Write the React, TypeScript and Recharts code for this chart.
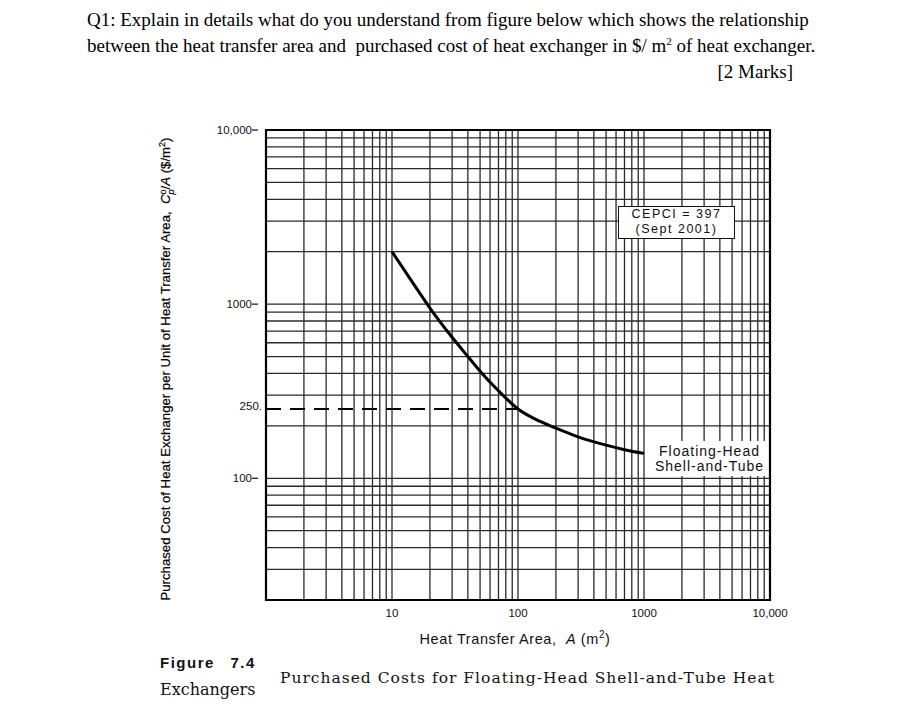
import React from "react";
import {
  LineChart,
  Line,
  XAxis,
  YAxis,
  CartesianGrid,
  ReferenceLine,
  ReferenceArea,
} from "recharts";

// curve (log-log)
const AREA = [10, 15, 20, 30, 40, 50, 70, 100, 150, 200, 300, 500, 700, 1000];
const COST = [2000, 1290, 950, 645, 500, 412, 318, 250, 212, 194, 173, 155, 146, 139];

const X_TICKS = [10, 100, 1000, 10000];
const X_TICK_LABELS = ["10", "100", "1000", "10,000"];
const Y_TICKS = [100, 1000, 10000];
const Y_TICK_LABELS = ["100", "1000", "10,000"];
const MARKED_COST = 250;
const MARKED_AREA = 100;

const X_DECADES = [1, 10, 100, 1000];
const Y_DECADES = [10, 100, 1000];
const STEPS = [1, 2, 3, 4, 5, 6, 7, 8, 9];

const X_MIN = 1;
const X_MAX = 10000;
const Y_MIN = 20;
const Y_MAX = 10000;

// log grid: 1..9 in every decade
const X_GRID = [...X_DECADES.flatMap((d) => STEPS.map((s) => s * d)), X_MAX];
const Y_GRID = [
  ...Y_DECADES.flatMap((d) => STEPS.map((s) => s * d)).filter((v) => v >= Y_MIN),
  Y_MAX,
];

const data = AREA.map((a, i) => ({ area: a, cost: COST[i] }));

const sans = "'Liberation Sans', Arial, sans-serif";
const serif = "'Liberation Serif', 'Times New Roman', serif";

function XTick({ x, y, payload }: any) {
  const i = X_TICKS.indexOf(payload.value);
  if (i < 0) return null;
  return (
    <text x={x} y={y + 9} textAnchor="middle" fontSize={11.5} fontFamily={sans} fill="#111">
      {X_TICK_LABELS[i]}
    </text>
  );
}

function YTick({ x, y, payload }: any) {
  const i = Y_TICKS.indexOf(payload.value);
  if (i < 0) return null;
  return (
    <g>
      <line x1={x - 6} x2={x} y1={y} y2={y} stroke="#111" strokeWidth={1.2} />
      <text x={x - 6} y={y + 4} textAnchor="end" fontSize={11.5} fontFamily={sans} fill="#111">
        {Y_TICK_LABELS[i]}
      </text>
    </g>
  );
}

export default function App() {
  return (
    <div
      style={{
        position: "absolute",
        left: 0,
        top: 0,
        width: 900,
        height: 725,
        background: "#fff",
        overflow: "hidden",
      }}
    >
      <div
        style={{
          position: "absolute",
          left: 87,
          top: 7,
          width: 760,
          fontFamily: serif,
          fontSize: 19,
          lineHeight: "26px",
          color: "#000",
        }}
      >
        <div style={{ whiteSpace: "nowrap" }}>
          Q1: Explain in details what do you understand from figure below which shows the relationship
        </div>
        <div style={{ whiteSpace: "nowrap" }}>
          between the heat transfer area and&nbsp; purchased cost of heat exchanger in $/ m
          <sup style={{ fontSize: 11, lineHeight: 0 }}>2</sup> of heat exchanger.
        </div>
        <div style={{ textAlign: "right", width: 706 }}>[2 Marks]</div>
      </div>

      <div style={{ position: "absolute", left: 0, top: 0 }}>
        <LineChart
          width={900}
          height={725}
          data={data}
          margin={{ top: 130, right: 130, bottom: 95, left: 206 }}
        >
          <CartesianGrid stroke="#2a2a2a" strokeWidth={1.3} />
          <XAxis
            dataKey="area"
            type="number"
            scale="log"
            domain={[X_MIN, X_MAX]}
            ticks={X_GRID}
            interval={0}
            allowDataOverflow
            tick={<XTick />}
            tickLine={false}
            axisLine={false}
            height={30}
          />
          <YAxis
            dataKey="cost"
            type="number"
            scale="log"
            domain={[Y_MIN, Y_MAX]}
            ticks={Y_GRID}
            interval={0}
            allowDataOverflow
            tick={<YTick />}
            tickLine={false}
            axisLine={false}
            width={60}
          />
          <ReferenceArea
            x1={X_MIN}
            x2={X_MAX}
            y1={Y_MIN}
            y2={Y_MAX}
            fill="none"
            fillOpacity={0}
            stroke="#000"
            strokeWidth={2.2}
          />
          <ReferenceLine
            y={MARKED_COST}
            stroke="none"
            strokeOpacity={0}
            label={{
              value: String(MARKED_COST) + ".",
              position: "left",
              offset: 4,
              fontSize: 11.5,
              fontFamily: sans,
              fill: "#111",
              dy: -3,
            }}
          />
          <ReferenceLine
            segment={[
              { x: X_MIN, y: MARKED_COST },
              { x: MARKED_AREA, y: MARKED_COST },
            ]}
            stroke="#000"
            strokeWidth={2}
            strokeDasharray="15 9"
          />
          <Line
            dataKey="cost"
            type="monotone"
            stroke="#000"
            strokeWidth={3}
            dot={false}
            isAnimationActive={false}
          />
        </LineChart>
      </div>

      {/* annotations */}
      <div
        style={{
          position: "absolute",
          left: 618,
          top: 206,
          width: 117,
          height: 33,
          background: "#fff",
          border: "1.5px solid #111",
          fontFamily: sans,
          fontSize: 12.5,
          letterSpacing: 1.5,
          lineHeight: "15px",
          textAlign: "center",
          paddingTop: 0,
          boxSizing: "border-box",
          color: "#111",
        }}
      >
        <div>CEPCI = 397</div>
        <div>(Sept 2001)</div>
      </div>
      <div
        style={{
          position: "absolute",
          left: 651,
          top: 441,
          width: 117,
          height: 35,
          background: "#fff",
          fontFamily: sans,
          fontSize: 14,
          letterSpacing: 1,
          lineHeight: "15px",
          textAlign: "center",
          paddingTop: 3,
          boxSizing: "border-box",
          color: "#111",
        }}
      >
        Floating-Head
        <br />
        Shell-and-Tube
      </div>

      {/* y axis title */}
      <div
        style={{
          position: "absolute",
          left: 166 - 235,
          top: 369 - 10,
          width: 470,
          height: 20,
          lineHeight: "20px",
          transform: "rotate(-90deg)",
          textAlign: "center",
          whiteSpace: "nowrap",
          fontFamily: "'Liberation Sans Narrow', 'Arial Narrow', 'Liberation Sans', sans-serif",
          fontSize: 13.2,
          color: "#000",
          WebkitTextStroke: "0.2px #000",
        }}
      >
        Purchased Cost of Heat Exchanger per Unit of Heat Transfer Area,&nbsp; <i>C</i>
        <span
          style={{
            display: "inline-flex",
            flexDirection: "column",
            lineHeight: "8px",
            fontSize: 9,
            verticalAlign: "middle",
          }}
        >
          <span>o</span>
          <i>p</i>
        </span>
        /<i>A</i> ($/m<sup style={{ fontSize: 9, lineHeight: 0 }}>2</sup>)
      </div>

      {/* x axis title */}
      <div
        style={{
          position: "absolute",
          left: 315,
          top: 631,
          width: 400,
          textAlign: "center",
          fontFamily: sans,
          fontSize: 14.5,
          letterSpacing: 0.6,
          color: "#111",
        }}
      >
        Heat Transfer Area,&nbsp; <i>A</i> (m<sup style={{ fontSize: 10, lineHeight: 0 }}>2</sup>)
      </div>

      {/* caption */}
      <div
        style={{
          position: "absolute",
          left: 160,
          top: 654,
          width: 700,
          height: 50,
          color: "#111",
        }}
      >
        <div
          style={{
            fontFamily: sans,
            fontWeight: "bold",
            fontSize: 15,
            letterSpacing: 1.5,
            wordSpacing: 10,
            lineHeight: "18px",
          }}
        >
          Figure 7.4
        </div>
        <div
          style={{
            position: "absolute",
            left: 120,
            top: 15,
            whiteSpace: "nowrap",
            fontFamily: "'DejaVu Serif', serif",
            fontSize: 15.5,
            letterSpacing: 1.0,
            lineHeight: "18px",
          }}
        >
          Purchased Costs for Floating-Head Shell-and-Tube Heat
        </div>
        <div
          style={{
            fontFamily: "'DejaVu Serif', serif",
            fontSize: 16,
            lineHeight: "18px",
            marginTop: 9,
          }}
        >
          Exchangers
        </div>
      </div>
    </div>
  );
}
